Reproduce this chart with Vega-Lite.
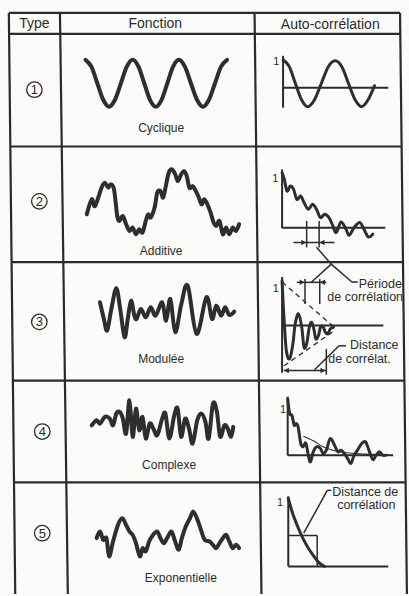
{
  "$schema": "https://vega.github.io/schema/vega-lite/v6.json",
  "width": 409,
  "height": 596,
  "autosize": {"type": "fit", "contains": "padding"},
  "padding": 0,
  "background": "#fbfbfa",
  "config": {"view": {"stroke": null}},
  "datasets": {
    "segs": [
      {"kind": "grid", "x": 9, "y": 13, "x2": 15.5, "y2": 596},
      {"kind": "grid", "x": 61, "y": 13, "x2": 69, "y2": 596},
      {"kind": "grid", "x": 259, "y": 13, "x2": 266, "y2": 596},
      {"kind": "grid", "x": 407, "y": 13, "x2": 414, "y2": 596},
      {"kind": "grid", "x": 9, "y": 13, "x2": 407, "y2": 13},
      {"kind": "grid", "x": 9.2, "y": 34, "x2": 407.2, "y2": 34},
      {"kind": "grid", "x": 10.5, "y": 147, "x2": 408.6, "y2": 147},
      {"kind": "grid", "x": 11.8, "y": 263, "x2": 410, "y2": 263},
      {"kind": "grid", "x": 13.1, "y": 382, "x2": 411, "y2": 382},
      {"kind": "grid", "x": 14.3, "y": 484, "x2": 412, "y2": 484},
      {"kind": "axis", "x": 288, "y": 56, "x2": 288, "y2": 108},
      {"kind": "axis", "x": 288, "y": 88, "x2": 395, "y2": 88},
      {"kind": "axis", "x": 287, "y": 170, "x2": 287, "y2": 229},
      {"kind": "axis", "x": 287, "y": 228.5, "x2": 392, "y2": 228.5},
      {"kind": "axis", "x": 287, "y": 278, "x2": 287, "y2": 374},
      {"kind": "axis", "x": 287, "y": 326.7, "x2": 390, "y2": 326.7},
      {"kind": "axis", "x": 292.7, "y": 398, "x2": 292.7, "y2": 457},
      {"kind": "axis", "x": 292.7, "y": 456.7, "x2": 400, "y2": 456.7},
      {"kind": "axis", "x": 293.3, "y": 498, "x2": 293.3, "y2": 568.3},
      {"kind": "axis", "x": 293.3, "y": 568.3, "x2": 395, "y2": 568.3},
      {"kind": "thin", "x": 298.7, "y": 243.3, "x2": 340.3, "y2": 243.3},
      {"kind": "thin", "x": 312, "y": 221.7, "x2": 312, "y2": 248.3},
      {"kind": "thin", "x": 324.7, "y": 221.7, "x2": 324.7, "y2": 248.3},
      {"kind": "thin", "x": 322, "y": 248, "x2": 337, "y2": 265},
      {"kind": "thin", "x": 337, "y": 265, "x2": 358, "y2": 283},
      {"kind": "thin", "x": 358, "y": 283, "x2": 364, "y2": 283},
      {"kind": "thin", "x": 337, "y": 265, "x2": 317, "y2": 283},
      {"kind": "thin", "x": 302, "y": 283.3, "x2": 332, "y2": 283.3},
      {"kind": "thin", "x": 310.3, "y": 280, "x2": 310.3, "y2": 305},
      {"kind": "thin", "x": 325.3, "y": 280, "x2": 325.3, "y2": 305},
      {"kind": "thin", "x": 288.7, "y": 371.7, "x2": 332, "y2": 371.7},
      {"kind": "thin", "x": 332, "y": 350, "x2": 332, "y2": 376},
      {"kind": "thin", "x": 345, "y": 347, "x2": 320, "y2": 371},
      {"kind": "thin", "x": 345, "y": 347, "x2": 352, "y2": 347},
      {"kind": "thin", "x": 293.3, "y": 537.3, "x2": 322.7, "y2": 537.3},
      {"kind": "thin", "x": 322.7, "y": 537.3, "x2": 322.7, "y2": 568.3},
      {"kind": "thin", "x": 333, "y": 492, "x2": 309, "y2": 535},
      {"kind": "thin", "x": 333, "y": 492, "x2": 337, "y2": 492},
      {"kind": "dash", "x": 287, "y": 283, "x2": 342, "y2": 330},
      {"kind": "dash", "x": 289, "y": 367, "x2": 340, "y2": 332}
    ],
    "curves": [
      {"kind": "func", "id": "f1", "x": 87, "y": 60}, {"kind": "func", "id": "f1", "x": 93, "y": 66.9}, {"kind": "func", "id": "f1", "x": 99, "y": 83.5}, {"kind": "func", "id": "f1", "x": 105, "y": 100.1}, {"kind": "func", "id": "f1", "x": 111, "y": 107}, {"kind": "func", "id": "f1", "x": 117, "y": 100.1}, {"kind": "func", "id": "f1", "x": 123, "y": 83.5}, {"kind": "func", "id": "f1", "x": 129, "y": 66.9}, {"kind": "func", "id": "f1", "x": 135, "y": 60}, {"kind": "func", "id": "f1", "x": 140.9, "y": 66.9}, {"kind": "func", "id": "f1", "x": 146.75, "y": 83.5}, {"kind": "func", "id": "f1", "x": 152.6, "y": 100.1}, {"kind": "func", "id": "f1", "x": 158.5, "y": 107}, {"kind": "func", "id": "f1", "x": 164.4, "y": 100.1}, {"kind": "func", "id": "f1", "x": 170.25, "y": 83.5}, {"kind": "func", "id": "f1", "x": 176.1, "y": 66.9}, {"kind": "func", "id": "f1", "x": 182, "y": 60}, {"kind": "func", "id": "f1", "x": 188.1, "y": 66.9}, {"kind": "func", "id": "f1", "x": 194.25, "y": 83.5}, {"kind": "func", "id": "f1", "x": 200.4, "y": 100.1}, {"kind": "func", "id": "f1", "x": 206.5, "y": 107}, {"kind": "func", "id": "f1", "x": 212.6, "y": 100.1}, {"kind": "func", "id": "f1", "x": 218.75, "y": 83.5}, {"kind": "func", "id": "f1", "x": 224.9, "y": 66.9}, {"kind": "func", "id": "f1", "x": 231, "y": 60},

      {"kind": "func", "id": "f2", "x": 88.3, "y": 215}, {"kind": "func", "id": "f2", "x": 93.3, "y": 200}, {"kind": "func", "id": "f2", "x": 96.7, "y": 206.7}, {"kind": "func", "id": "f2", "x": 103.3, "y": 188.3}, {"kind": "func", "id": "f2", "x": 106.7, "y": 183.3}, {"kind": "func", "id": "f2", "x": 110, "y": 188.3}, {"kind": "func", "id": "f2", "x": 112.7, "y": 185}, {"kind": "func", "id": "f2", "x": 116, "y": 190}, {"kind": "func", "id": "f2", "x": 119.3, "y": 216.7}, {"kind": "func", "id": "f2", "x": 121.7, "y": 221.7}, {"kind": "func", "id": "f2", "x": 125, "y": 216.7}, {"kind": "func", "id": "f2", "x": 128.3, "y": 225}, {"kind": "func", "id": "f2", "x": 131.7, "y": 231.7}, {"kind": "func", "id": "f2", "x": 135, "y": 228.3}, {"kind": "func", "id": "f2", "x": 138.3, "y": 235}, {"kind": "func", "id": "f2", "x": 141.7, "y": 230}, {"kind": "func", "id": "f2", "x": 145, "y": 233.3}, {"kind": "func", "id": "f2", "x": 148.3, "y": 221.7}, {"kind": "func", "id": "f2", "x": 150.7, "y": 215}, {"kind": "func", "id": "f2", "x": 153.3, "y": 218.3}, {"kind": "func", "id": "f2", "x": 157.3, "y": 208.3}, {"kind": "func", "id": "f2", "x": 160, "y": 193.3}, {"kind": "func", "id": "f2", "x": 163.3, "y": 191.7}, {"kind": "func", "id": "f2", "x": 166, "y": 198.3}, {"kind": "func", "id": "f2", "x": 168.7, "y": 186.7}, {"kind": "func", "id": "f2", "x": 171.7, "y": 173.3}, {"kind": "func", "id": "f2", "x": 175, "y": 170}, {"kind": "func", "id": "f2", "x": 178.3, "y": 175}, {"kind": "func", "id": "f2", "x": 181, "y": 181.7}, {"kind": "func", "id": "f2", "x": 184.3, "y": 175}, {"kind": "func", "id": "f2", "x": 187.3, "y": 171.7}, {"kind": "func", "id": "f2", "x": 190, "y": 176.7}, {"kind": "func", "id": "f2", "x": 192.7, "y": 188.3}, {"kind": "func", "id": "f2", "x": 196, "y": 186.7}, {"kind": "func", "id": "f2", "x": 198.3, "y": 190}, {"kind": "func", "id": "f2", "x": 201.7, "y": 196.7}, {"kind": "func", "id": "f2", "x": 205, "y": 205}, {"kind": "func", "id": "f2", "x": 207.7, "y": 200}, {"kind": "func", "id": "f2", "x": 211, "y": 205}, {"kind": "func", "id": "f2", "x": 214.3, "y": 213.3}, {"kind": "func", "id": "f2", "x": 217.3, "y": 223.3}, {"kind": "func", "id": "f2", "x": 220, "y": 226.7}, {"kind": "func", "id": "f2", "x": 223.3, "y": 221.7}, {"kind": "func", "id": "f2", "x": 226.7, "y": 235}, {"kind": "func", "id": "f2", "x": 230, "y": 228.3}, {"kind": "func", "id": "f2", "x": 233.3, "y": 235}, {"kind": "func", "id": "f2", "x": 236.7, "y": 228.3}, {"kind": "func", "id": "f2", "x": 240, "y": 231.7}, {"kind": "func", "id": "f2", "x": 243.3, "y": 225},

      {"kind": "func", "id": "f3", "x": 101.7, "y": 303.3}, {"kind": "func", "id": "f3", "x": 105.7, "y": 320}, {"kind": "func", "id": "f3", "x": 109, "y": 331.7}, {"kind": "func", "id": "f3", "x": 113.3, "y": 310}, {"kind": "func", "id": "f3", "x": 118.3, "y": 289.3}, {"kind": "func", "id": "f3", "x": 122.3, "y": 310}, {"kind": "func", "id": "f3", "x": 126.7, "y": 338.3}, {"kind": "func", "id": "f3", "x": 130, "y": 320}, {"kind": "func", "id": "f3", "x": 133.3, "y": 301.7}, {"kind": "func", "id": "f3", "x": 136.7, "y": 316.7}, {"kind": "func", "id": "f3", "x": 139, "y": 320}, {"kind": "func", "id": "f3", "x": 143.3, "y": 310}, {"kind": "func", "id": "f3", "x": 148.3, "y": 318.3}, {"kind": "func", "id": "f3", "x": 153.3, "y": 308.3}, {"kind": "func", "id": "f3", "x": 158.3, "y": 316.7}, {"kind": "func", "id": "f3", "x": 165, "y": 303.3}, {"kind": "func", "id": "f3", "x": 169, "y": 321.7}, {"kind": "func", "id": "f3", "x": 173.3, "y": 300}, {"kind": "func", "id": "f3", "x": 178.3, "y": 333.3}, {"kind": "func", "id": "f3", "x": 184.5, "y": 305}, {"kind": "func", "id": "f3", "x": 191, "y": 286.7}, {"kind": "func", "id": "f3", "x": 200, "y": 335}, {"kind": "func", "id": "f3", "x": 210, "y": 298.3}, {"kind": "func", "id": "f3", "x": 215.7, "y": 320}, {"kind": "func", "id": "f3", "x": 220, "y": 306.7}, {"kind": "func", "id": "f3", "x": 225, "y": 316.7}, {"kind": "func", "id": "f3", "x": 229, "y": 308.3}, {"kind": "func", "id": "f3", "x": 233.3, "y": 316}, {"kind": "func", "id": "f3", "x": 238.3, "y": 312.7},

      {"kind": "func", "id": "f4", "x": 93.3, "y": 426.7}, {"kind": "func", "id": "f4", "x": 98.3, "y": 421.7}, {"kind": "func", "id": "f4", "x": 101.7, "y": 425}, {"kind": "func", "id": "f4", "x": 106.7, "y": 418.3}, {"kind": "func", "id": "f4", "x": 111.7, "y": 420}, {"kind": "func", "id": "f4", "x": 115, "y": 426.7}, {"kind": "func", "id": "f4", "x": 118.3, "y": 415}, {"kind": "func", "id": "f4", "x": 121.7, "y": 413.3}, {"kind": "func", "id": "f4", "x": 125, "y": 420}, {"kind": "func", "id": "f4", "x": 128.3, "y": 435}, {"kind": "func", "id": "f4", "x": 131.7, "y": 401.7}, {"kind": "func", "id": "f4", "x": 135, "y": 438.3}, {"kind": "func", "id": "f4", "x": 138.3, "y": 410}, {"kind": "func", "id": "f4", "x": 141.7, "y": 431.7}, {"kind": "func", "id": "f4", "x": 145, "y": 418.3}, {"kind": "func", "id": "f4", "x": 148.3, "y": 440}, {"kind": "func", "id": "f4", "x": 152.3, "y": 425}, {"kind": "func", "id": "f4", "x": 156, "y": 430}, {"kind": "func", "id": "f4", "x": 160, "y": 436.7}, {"kind": "func", "id": "f4", "x": 165, "y": 420}, {"kind": "func", "id": "f4", "x": 168.3, "y": 415}, {"kind": "func", "id": "f4", "x": 172.3, "y": 440}, {"kind": "func", "id": "f4", "x": 177.3, "y": 416.7}, {"kind": "func", "id": "f4", "x": 180.7, "y": 410}, {"kind": "func", "id": "f4", "x": 184.3, "y": 438.3}, {"kind": "func", "id": "f4", "x": 188.3, "y": 420}, {"kind": "func", "id": "f4", "x": 192.3, "y": 430}, {"kind": "func", "id": "f4", "x": 196, "y": 445}, {"kind": "func", "id": "f4", "x": 200.7, "y": 421.7}, {"kind": "func", "id": "f4", "x": 205, "y": 415}, {"kind": "func", "id": "f4", "x": 209, "y": 423.3}, {"kind": "func", "id": "f4", "x": 212.3, "y": 440}, {"kind": "func", "id": "f4", "x": 216.7, "y": 405}, {"kind": "func", "id": "f4", "x": 220.7, "y": 413.3}, {"kind": "func", "id": "f4", "x": 224, "y": 438.3}, {"kind": "func", "id": "f4", "x": 228.3, "y": 426.7}, {"kind": "func", "id": "f4", "x": 231.7, "y": 430}, {"kind": "func", "id": "f4", "x": 235, "y": 438.3}, {"kind": "func", "id": "f4", "x": 237.3, "y": 428.3},

      {"kind": "func", "id": "f5", "x": 98.3, "y": 540}, {"kind": "func", "id": "f5", "x": 101.7, "y": 533.3}, {"kind": "func", "id": "f5", "x": 105, "y": 541.7}, {"kind": "func", "id": "f5", "x": 108.3, "y": 540}, {"kind": "func", "id": "f5", "x": 111, "y": 558.3}, {"kind": "func", "id": "f5", "x": 115, "y": 543.3}, {"kind": "func", "id": "f5", "x": 120, "y": 526.7}, {"kind": "func", "id": "f5", "x": 124.3, "y": 520}, {"kind": "func", "id": "f5", "x": 128.3, "y": 526.7}, {"kind": "func", "id": "f5", "x": 131.7, "y": 533.3}, {"kind": "func", "id": "f5", "x": 135, "y": 536.7}, {"kind": "func", "id": "f5", "x": 138.3, "y": 545}, {"kind": "func", "id": "f5", "x": 142.3, "y": 558.3}, {"kind": "func", "id": "f5", "x": 145, "y": 550}, {"kind": "func", "id": "f5", "x": 148.3, "y": 553.3}, {"kind": "func", "id": "f5", "x": 151.7, "y": 543.3}, {"kind": "func", "id": "f5", "x": 155.7, "y": 536.7}, {"kind": "func", "id": "f5", "x": 160, "y": 533.3}, {"kind": "func", "id": "f5", "x": 163.3, "y": 540}, {"kind": "func", "id": "f5", "x": 166.7, "y": 545}, {"kind": "func", "id": "f5", "x": 170, "y": 540}, {"kind": "func", "id": "f5", "x": 174.3, "y": 533.3}, {"kind": "func", "id": "f5", "x": 177.7, "y": 541.7}, {"kind": "func", "id": "f5", "x": 181.7, "y": 551.7}, {"kind": "func", "id": "f5", "x": 185, "y": 540}, {"kind": "func", "id": "f5", "x": 189, "y": 528.3}, {"kind": "func", "id": "f5", "x": 193.3, "y": 520}, {"kind": "func", "id": "f5", "x": 196.7, "y": 513.3}, {"kind": "func", "id": "f5", "x": 201, "y": 521.7}, {"kind": "func", "id": "f5", "x": 205, "y": 533.3}, {"kind": "func", "id": "f5", "x": 208.3, "y": 541.7}, {"kind": "func", "id": "f5", "x": 213.3, "y": 543.3}, {"kind": "func", "id": "f5", "x": 216.7, "y": 546.7}, {"kind": "func", "id": "f5", "x": 220, "y": 550}, {"kind": "func", "id": "f5", "x": 223.3, "y": 545}, {"kind": "func", "id": "f5", "x": 226.7, "y": 540}, {"kind": "func", "id": "f5", "x": 230, "y": 536.7}, {"kind": "func", "id": "f5", "x": 233.3, "y": 543.3}, {"kind": "func", "id": "f5", "x": 236.7, "y": 550}, {"kind": "func", "id": "f5", "x": 240, "y": 546.7}, {"kind": "func", "id": "f5", "x": 243.3, "y": 550},

      {"kind": "acf", "id": "a1", "x": 288, "y": 60}, {"kind": "acf", "id": "a1", "x": 294.3, "y": 66.9}, {"kind": "acf", "id": "a1", "x": 300.5, "y": 83.5}, {"kind": "acf", "id": "a1", "x": 306.8, "y": 100.1}, {"kind": "acf", "id": "a1", "x": 313, "y": 107}, {"kind": "acf", "id": "a1", "x": 320, "y": 100.1}, {"kind": "acf", "id": "a1", "x": 327, "y": 83.5}, {"kind": "acf", "id": "a1", "x": 334, "y": 66.9}, {"kind": "acf", "id": "a1", "x": 341, "y": 61}, {"kind": "acf", "id": "a1", "x": 347.8, "y": 66.9}, {"kind": "acf", "id": "a1", "x": 354.5, "y": 83.5}, {"kind": "acf", "id": "a1", "x": 361.3, "y": 100.1}, {"kind": "acf", "id": "a1", "x": 368, "y": 107}, {"kind": "acf", "id": "a1", "x": 374.5, "y": 100.1}, {"kind": "acf", "id": "a1", "x": 381, "y": 86},

      {"kind": "acf", "id": "a2", "x": 287, "y": 173.3}, {"kind": "acf", "id": "a2", "x": 289.3, "y": 180}, {"kind": "acf", "id": "a2", "x": 292, "y": 191.7}, {"kind": "acf", "id": "a2", "x": 295.3, "y": 186.7}, {"kind": "acf", "id": "a2", "x": 298.7, "y": 190}, {"kind": "acf", "id": "a2", "x": 302, "y": 200}, {"kind": "acf", "id": "a2", "x": 306, "y": 196.7}, {"kind": "acf", "id": "a2", "x": 309.3, "y": 203.3}, {"kind": "acf", "id": "a2", "x": 313.7, "y": 210}, {"kind": "acf", "id": "a2", "x": 318, "y": 205}, {"kind": "acf", "id": "a2", "x": 322, "y": 210}, {"kind": "acf", "id": "a2", "x": 326, "y": 218.3}, {"kind": "acf", "id": "a2", "x": 330.3, "y": 215}, {"kind": "acf", "id": "a2", "x": 334.7, "y": 218.3}, {"kind": "acf", "id": "a2", "x": 338.7, "y": 226.7}, {"kind": "acf", "id": "a2", "x": 342, "y": 233.3}, {"kind": "acf", "id": "a2", "x": 347, "y": 222.7}, {"kind": "acf", "id": "a2", "x": 352, "y": 230}, {"kind": "acf", "id": "a2", "x": 355.3, "y": 236}, {"kind": "acf", "id": "a2", "x": 360.3, "y": 228.3}, {"kind": "acf", "id": "a2", "x": 366, "y": 223.3}, {"kind": "acf", "id": "a2", "x": 370.3, "y": 230}, {"kind": "acf", "id": "a2", "x": 374.7, "y": 237.7}, {"kind": "acf", "id": "a2", "x": 379.3, "y": 235},

      {"kind": "acf", "id": "a3", "x": 287, "y": 281.7}, {"kind": "acf", "id": "a3", "x": 288.7, "y": 315}, {"kind": "acf", "id": "a3", "x": 291.3, "y": 351.7}, {"kind": "acf", "id": "a3", "x": 294.7, "y": 360}, {"kind": "acf", "id": "a3", "x": 298, "y": 345}, {"kind": "acf", "id": "a3", "x": 300.3, "y": 325}, {"kind": "acf", "id": "a3", "x": 303.7, "y": 315}, {"kind": "acf", "id": "a3", "x": 307, "y": 328.3}, {"kind": "acf", "id": "a3", "x": 309.3, "y": 348.3}, {"kind": "acf", "id": "a3", "x": 312, "y": 345}, {"kind": "acf", "id": "a3", "x": 314.7, "y": 328.3}, {"kind": "acf", "id": "a3", "x": 317, "y": 323.3}, {"kind": "acf", "id": "a3", "x": 319.3, "y": 330}, {"kind": "acf", "id": "a3", "x": 321.3, "y": 340}, {"kind": "acf", "id": "a3", "x": 324, "y": 336.7}, {"kind": "acf", "id": "a3", "x": 326, "y": 328.3}, {"kind": "acf", "id": "a3", "x": 328.7, "y": 327.7}, {"kind": "acf", "id": "a3", "x": 331, "y": 333.3}, {"kind": "acf", "id": "a3", "x": 333.7, "y": 335}, {"kind": "acf", "id": "a3", "x": 336, "y": 330}, {"kind": "acf", "id": "a3", "x": 339.3, "y": 328.3},

      {"kind": "acf", "id": "a4", "x": 292.7, "y": 400}, {"kind": "acf", "id": "a4", "x": 294.7, "y": 415}, {"kind": "acf", "id": "a4", "x": 297, "y": 416.7}, {"kind": "acf", "id": "a4", "x": 299.3, "y": 426.7}, {"kind": "acf", "id": "a4", "x": 301.3, "y": 425}, {"kind": "acf", "id": "a4", "x": 303.3, "y": 428.3}, {"kind": "acf", "id": "a4", "x": 306, "y": 445}, {"kind": "acf", "id": "a4", "x": 308.7, "y": 448.3}, {"kind": "acf", "id": "a4", "x": 311.3, "y": 445}, {"kind": "acf", "id": "a4", "x": 315.3, "y": 463.3}, {"kind": "acf", "id": "a4", "x": 318.7, "y": 453.3}, {"kind": "acf", "id": "a4", "x": 322, "y": 448.3}, {"kind": "acf", "id": "a4", "x": 326, "y": 450}, {"kind": "acf", "id": "a4", "x": 328.7, "y": 455}, {"kind": "acf", "id": "a4", "x": 332, "y": 451.7}, {"kind": "acf", "id": "a4", "x": 336, "y": 440}, {"kind": "acf", "id": "a4", "x": 340.3, "y": 446.7}, {"kind": "acf", "id": "a4", "x": 343.7, "y": 453.3}, {"kind": "acf", "id": "a4", "x": 347, "y": 451.7}, {"kind": "acf", "id": "a4", "x": 350.3, "y": 455}, {"kind": "acf", "id": "a4", "x": 353.7, "y": 460}, {"kind": "acf", "id": "a4", "x": 357, "y": 465}, {"kind": "acf", "id": "a4", "x": 360.3, "y": 456.7}, {"kind": "acf", "id": "a4", "x": 363.7, "y": 451.7}, {"kind": "acf", "id": "a4", "x": 368, "y": 445}, {"kind": "acf", "id": "a4", "x": 372, "y": 443.3}, {"kind": "acf", "id": "a4", "x": 375.3, "y": 451.7}, {"kind": "acf", "id": "a4", "x": 379.3, "y": 461}, {"kind": "acf", "id": "a4", "x": 382.7, "y": 456.7}, {"kind": "acf", "id": "a4", "x": 386, "y": 453.3}, {"kind": "acf", "id": "a4", "x": 389.3, "y": 456.7}, {"kind": "acf", "id": "a4", "x": 392.7, "y": 456.7},

      {"kind": "acf", "id": "a5", "x": 293.3, "y": 500}, {"kind": "acf", "id": "a5", "x": 298.3, "y": 516.7}, {"kind": "acf", "id": "a5", "x": 305, "y": 533.3}, {"kind": "acf", "id": "a5", "x": 311.7, "y": 546.7}, {"kind": "acf", "id": "a5", "x": 318.3, "y": 556.7}, {"kind": "acf", "id": "a5", "x": 325, "y": 565}, {"kind": "acf", "id": "a5", "x": 330, "y": 568.3},

      {"kind": "env", "id": "e4", "x": 308.7, "y": 437.7}, {"kind": "env", "id": "e4", "x": 318.7, "y": 442.3}, {"kind": "env", "id": "e4", "x": 328.7, "y": 448.3}, {"kind": "env", "id": "e4", "x": 345.3, "y": 453.3}, {"kind": "env", "id": "e4", "x": 372, "y": 455.7}, {"kind": "env", "id": "e4", "x": 395.3, "y": 456.3}
    ],
    "arrows": [
      {"dir": "r", "x": 309, "y": 243.3}, {"dir": "l", "x": 327.7, "y": 243.3},
      {"dir": "r", "x": 307.3, "y": 283.3}, {"dir": "l", "x": 328.3, "y": 283.3},
      {"dir": "l", "x": 291.5, "y": 371.7}, {"dir": "r", "x": 328.5, "y": 371.7}
    ],
    "nums": [
      {"n": "1", "x": 35, "y": 90}, {"n": "2", "x": 40, "y": 202}, {"n": "3", "x": 40, "y": 323}, {"n": "4", "x": 43, "y": 433}, {"n": "5", "x": 43, "y": 535}
    ],
    "texts": [
      {"role": "header", "t": "Type", "x": 35, "y": 24},
      {"role": "header", "t": "Fonction", "x": 158, "y": 24},
      {"role": "header", "t": "Auto-corrélation", "x": 336, "y": 25},
      {"role": "label", "t": "Cyclique", "x": 164, "y": 128},
      {"role": "label", "t": "Additive", "x": 164, "y": 252},
      {"role": "label", "t": "Modulée", "x": 164, "y": 360},
      {"role": "label", "t": "Complexe", "x": 172, "y": 467},
      {"role": "label", "t": "Exponentielle", "x": 184, "y": 580},
      {"role": "annot", "t": "Période", "x": 365, "y": 285},
      {"role": "annot", "t": "de corrélation", "x": 333, "y": 297.5},
      {"role": "annot", "t": "Distance", "x": 356, "y": 346},
      {"role": "annot", "t": "de corrélat.", "x": 334, "y": 360},
      {"role": "annot", "t": "Distance de", "x": 338, "y": 493.5},
      {"role": "annot", "t": "corrélation", "x": 343, "y": 507},
      {"role": "one", "t": "1", "x": 281, "y": 62},
      {"role": "one", "t": "1", "x": 280, "y": 180},
      {"role": "one", "t": "1", "x": 280.5, "y": 290},
      {"role": "one", "t": "1", "x": 288, "y": 411.7},
      {"role": "one", "t": "1", "x": 285, "y": 505}
    ]
  },
  "encoding": {
    "x": {"field": "x", "type": "quantitative", "scale": {"domain": [0, 409], "nice": false, "zero": false}, "axis": null},
    "y": {"field": "y", "type": "quantitative", "scale": {"domain": [0, 596], "nice": false, "zero": false, "reverse": true}, "axis": null}
  },
  "layer": [
    {
      "data": {"name": "segs"},
      "transform": [{"filter": "datum.kind == 'grid'"}],
      "mark": {"type": "rule", "color": "#2b2b2b", "strokeWidth": 2.2},
      "encoding": {"x2": {"field": "x2"}, "y2": {"field": "y2"}}
    },
    {
      "data": {"name": "segs"},
      "transform": [{"filter": "datum.kind == 'axis'"}],
      "mark": {"type": "rule", "color": "#2b2b2b", "strokeWidth": 2},
      "encoding": {"x2": {"field": "x2"}, "y2": {"field": "y2"}}
    },
    {
      "data": {"name": "segs"},
      "transform": [{"filter": "datum.kind == 'thin'"}],
      "mark": {"type": "rule", "color": "#2b2b2b", "strokeWidth": 1.5},
      "encoding": {"x2": {"field": "x2"}, "y2": {"field": "y2"}}
    },
    {
      "data": {"name": "segs"},
      "transform": [{"filter": "datum.kind == 'dash'"}],
      "mark": {"type": "rule", "color": "#2b2b2b", "strokeWidth": 1.3, "strokeDash": [5, 4]},
      "encoding": {"x2": {"field": "x2"}, "y2": {"field": "y2"}}
    },
    {
      "data": {"name": "curves"},
      "transform": [{"filter": "datum.kind == 'func'"}],
      "mark": {"type": "line", "color": "#2e2e2e", "strokeWidth": 4, "interpolate": "cardinal", "strokeCap": "round", "strokeJoin": "round"},
      "encoding": {"detail": {"field": "id"}}
    },
    {
      "data": {"name": "curves"},
      "transform": [{"filter": "datum.kind == 'acf'"}],
      "mark": {"type": "line", "color": "#2e2e2e", "strokeWidth": 3, "interpolate": "cardinal", "strokeCap": "round", "strokeJoin": "round"},
      "encoding": {"detail": {"field": "id"}}
    },
    {
      "data": {"name": "curves"},
      "transform": [{"filter": "datum.kind == 'env'"}],
      "mark": {"type": "line", "color": "#2e2e2e", "strokeWidth": 1.1, "interpolate": "monotone"},
      "encoding": {"detail": {"field": "id"}}
    },
    {
      "data": {"name": "arrows"},
      "mark": {"type": "point", "filled": true, "color": "#2b2b2b", "size": 30, "opacity": 1},
      "encoding": {"shape": {"field": "dir", "type": "nominal", "scale": {"domain": ["r", "l"], "range": ["triangle-right", "triangle-left"]}, "legend": null}}
    },
    {
      "data": {"name": "nums"},
      "mark": {"type": "point", "shape": "circle", "filled": false, "color": "#2b2b2b", "strokeWidth": 1.3, "size": 240, "opacity": 1}
    },
    {
      "data": {"name": "nums"},
      "mark": {"type": "text", "font": "Liberation Sans", "fontSize": 13, "color": "#2b2b2b", "align": "center", "baseline": "middle", "dy": 0.5},
      "encoding": {"text": {"field": "n"}}
    },
    {
      "data": {"name": "texts"},
      "transform": [{"filter": "datum.role == 'header'"}],
      "mark": {"type": "text", "font": "Liberation Sans", "fontSize": 14, "color": "#2b2b2b", "align": "center", "baseline": "middle"},
      "encoding": {"text": {"field": "t"}}
    },
    {
      "data": {"name": "texts"},
      "transform": [{"filter": "datum.role == 'label'"}],
      "mark": {"type": "text", "font": "Liberation Sans", "fontSize": 12, "color": "#2b2b2b", "align": "center", "baseline": "middle"},
      "encoding": {"text": {"field": "t"}}
    },
    {
      "data": {"name": "texts"},
      "transform": [{"filter": "datum.role == 'annot'"}],
      "mark": {"type": "text", "font": "Liberation Sans", "fontSize": 12.5, "color": "#2b2b2b", "align": "left", "baseline": "middle"},
      "encoding": {"text": {"field": "t"}}
    },
    {
      "data": {"name": "texts"},
      "transform": [{"filter": "datum.role == 'one'"}],
      "mark": {"type": "text", "font": "Liberation Sans", "fontSize": 11, "color": "#2b2b2b", "align": "center", "baseline": "middle"},
      "encoding": {"text": {"field": "t"}}
    }
  ]
}
